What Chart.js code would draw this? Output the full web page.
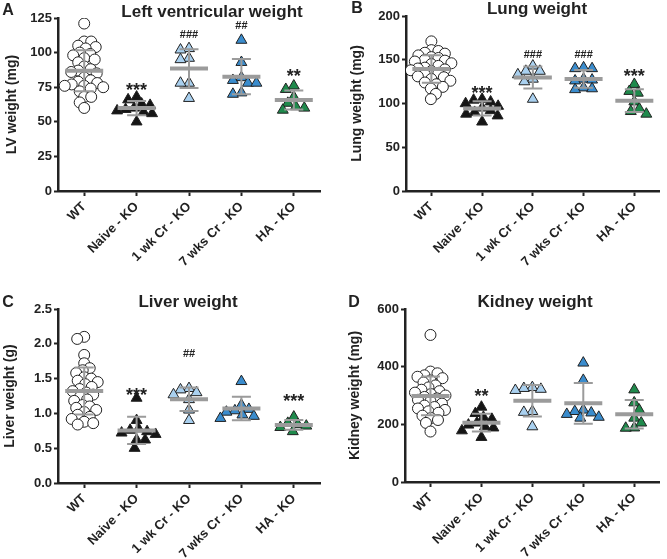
<!DOCTYPE html>
<html>
<head>
<meta charset="utf-8">
<script src="https://cdn.jsdelivr.net/npm/chart.js@4.4.0/dist/chart.umd.min.js"></script>
<style>
    body { margin: 0; background: #fff; width: 667px; height: 559px; position: relative; overflow: hidden; }
    .panel { position: absolute; }
</style>
</head>
<body>
<div class="panel" style="left:0;top:0;width:330px;height:280px"><canvas id="chartA"></canvas></div>
<div class="panel" style="left:330px;top:0;width:337px;height:280px"><canvas id="chartB"></canvas></div>
<div class="panel" style="left:0;top:280px;width:330px;height:279px"><canvas id="chartC"></canvas></div>
<div class="panel" style="left:330px;top:280px;width:337px;height:279px"><canvas id="chartD"></canvas></div>
<script>
const groups = ['WT', 'Naive - KO', '1 wk Cr - KO', '7 wks Cr - KO', 'HA - KO'];

// A - left ventricular weight (mg)
const lvWT    = [121, 108, 108, 105, 104, 103, 100, 99, 98, 96, 95, 93, 90, 88, 87, 86, 85, 82, 80, 79, 78, 77, 76, 76, 75, 74, 72, 68, 68, 64, 60];
const lvNaive = [68, 66, 63, 62, 60, 59, 58, 57, 56, 50];
const lv1wk   = [103, 102, 96, 95, 78, 78, 67];
const lv7wk   = [109, 93, 82, 80, 78, 78, 71, 70];
const lvHA    = [76, 73.5, 68, 63.5, 61, 60, 58.5];
const lvSig   = ['', '***', '###', '##', '**'];
const lvSigAt = [null, 75, 113, 119, 85];

// B - lung weight (mg)
const lungWT    = [171, 161, 160, 158, 157, 155, 153, 152, 150, 149, 148, 146, 145, 143, 141, 140, 139, 138, 137, 135, 133, 131, 130, 128, 126, 124, 122, 119, 117, 111, 105];
const lungNaive = [105, 104, 102, 100, 97, 95, 92, 90, 88, 86, 79];
const lung1wk   = [143, 137, 137, 133, 128, 125, 105];
const lung7wk   = [141, 140, 140, 128, 127, 126, 118, 117, 116];
const lungHA    = [122, 114, 112, 102, 94, 91, 88];
const lungSig   = ['', '***', '###', '###', '***'];
const lungSigAt = [null, 115, 155, 155, 135];

// C - liver weight (g)
const liverWT    = [2.10, 2.07, 1.84, 1.72, 1.65, 1.62, 1.58, 1.52, 1.50, 1.47, 1.45, 1.42, 1.38, 1.35, 1.32, 1.30, 1.27, 1.24, 1.20, 1.18, 1.12, 1.10, 1.08, 1.05, 1.02, 0.98, 0.95, 0.92, 0.88, 0.86, 0.84];
const liverNaive = [1.22, 0.90, 0.78, 0.76, 0.74, 0.72, 0.70, 0.62, 0.62, 0.50];
const liver1wk   = [1.36, 1.34, 1.30, 1.27, 1.20, 1.05, 0.90];
const liver7wk   = [1.46, 1.12, 1.06, 1.04, 1.02, 0.98, 0.96, 0.93];
const liverHA    = [0.95, 0.86, 0.84, 0.82, 0.80, 0.74];
const liverSig   = ['', '***', '##', '', '***'];
const liverSigAt = [null, 1.31, 1.85, null, 1.22];

// D - kidney weight (mg)
const kidneyWT    = [510, 383, 377, 370, 365, 360, 352, 345, 335, 328, 320, 315, 310, 305, 300, 295, 290, 285, 280, 272, 265, 260, 255, 250, 245, 240, 230, 222, 215, 205, 175];
const kidneyNaive = [260, 238, 225, 218, 205, 198, 192, 188, 178, 155];
const kidney1wk   = [328, 325, 322, 318, 245, 242, 192];
const kidney7wk   = [413, 353, 250, 245, 240, 235, 225, 222];
const kidneyHA    = [320, 275, 250, 222, 205, 188, 187];
const kidneySig   = ['', '**', '', '', ''];
const kidneySigAt = [null, 309, null, null, null];

const FONT = '"Liberation Sans", Arial, sans-serif';
const INK = '#222';
const fills = ['#ffffff', '#151515', '#a9d0ef', '#3a8ccd', '#1f8a4c'];

const decor = {
    id: 'decor',
    afterDatasetsDraw(chart, args, opts) {
        const { ctx, scales: { x, y } } = chart;
        ctx.save();
        chart.data.datasets.forEach((ds, i) => {
            const vals = ds.data.map(p => p.y);
            const m = vals.reduce((s, v) => s + v, 0) / vals.length;
            const sd = Math.sqrt(vals.reduce((s, v) => s + (v - m) ** 2, 0) / (vals.length - 1));
            const cx = x.getPixelForValue(i);
            const pm = y.getPixelForValue(m);
            const pt = y.getPixelForValue(m + sd);
            const pb = y.getPixelForValue(m - sd);
            ctx.strokeStyle = '#9b9b9b';
            ctx.lineWidth = 2;
            ctx.beginPath();
            ctx.moveTo(cx, pt); ctx.lineTo(cx, pb);
            ctx.moveTo(cx - 9.5, pt); ctx.lineTo(cx + 9.5, pt);
            ctx.moveTo(cx - 9.5, pb); ctx.lineTo(cx + 9.5, pb);
            ctx.stroke();
            ctx.lineWidth = 4;
            ctx.beginPath();
            ctx.moveTo(cx - 19, pm); ctx.lineTo(cx + 19, pm);
            ctx.stroke();

            const txt = opts.sig[i];
            if (txt) {
                const star = txt[0] === '*';
                ctx.fillStyle = INK;
                ctx.textAlign = 'center';
                ctx.textBaseline = 'middle';
                ctx.font = star ? 'bold 18px ' + FONT : 'bold 11px ' + FONT;
                ctx.fillText(txt, cx, y.getPixelForValue(opts.sigAt[i]) + (star ? 4 : 0));
            }
        });
        ctx.fillStyle = INK;
        ctx.textAlign = 'center';
        ctx.textBaseline = 'middle';
        ctx.font = 'bold 17px ' + FONT;
        ctx.fillText(opts.title, opts.titleX, opts.titleY);
        ctx.font = 'bold 16px ' + FONT;
        ctx.fillText(opts.letter, opts.letterX, opts.letterY);
        ctx.restore();
    }
};

// spread the points of a column sideways so they don't pile up (dot plot)
function swarm(chart) {
    const xs = chart.scales.x, ys = chart.scales.y;
    const catPx = xs.getPixelForValue(1) - xs.getPixelForValue(0);
    chart.data.datasets.forEach((ds, i) => {
        const minD = i === 0 ? 7 : 8.5;
        const placed = [];
        const pts = ds.data.slice().sort((a, b) => b.y - a.y);
        pts.forEach((p, n) => {
            const py = ys.getPixelForValue(p.y);
            const dir = n % 2 ? -1 : 1;
            let dx = 0;
            for (let k = 0; k < 80; k++) {
                const cands = k === 0 ? [0] : [dir * k * 0.5, -dir * k * 0.5];
                const ok = cands.find(c => placed.every(q => Math.hypot(q.dx - c, q.py - py) >= minD));
                if (ok !== undefined) { dx = ok; break; }
            }
            placed.push({ dx, py });
            p.x = i + dx / catPx;
        });
    });
    chart.update('none');
}

function makePanel(id, p) {
    const datasets = p.series.map((vals, i) => ({
        data: vals.map(v => ({ x: i, y: v })),
        pointStyle: i === 0 ? 'circle' : 'triangle',
        pointRadius: i === 0 ? 5.5 : 6.3,
        pointBackgroundColor: fills[i],
        pointBorderColor: INK,
        pointBorderWidth: 1,
        showLine: false,
    }));
    const chart = new Chart(document.getElementById(id), {
        type: 'scatter',
        data: { datasets },
        plugins: [decor],
        options: {
            responsive: true,
            maintainAspectRatio: false,
            animation: false,
            events: [],
            layout: { padding: { top: p.padTop, right: p.padRight, left: 0, bottom: 0 } },
            plugins: {
                legend: { display: false },
                tooltip: { enabled: false },
                decor: {
                    sig: p.sig, sigAt: p.sigAt,
                    title: p.title, titleX: p.titleX, titleY: p.titleY,
                    letter: p.letter, letterX: p.letterX, letterY: p.letterY,
                },
            },
            scales: {
                x: {
                    type: 'linear', min: -0.5, max: 4.5,
                    afterBuildTicks: s => { s.ticks = groups.map((g, i) => ({ value: i })); },
                    afterFit: s => { s.height = p.xH; },
                    ticks: {
                        autoSkip: false, minRotation: 45, maxRotation: 45, padding: 3,
                        color: INK, font: { family: FONT, size: 13, weight: 'bold' },
                        callback: v => groups[v],
                    },
                    grid: { drawOnChartArea: false, tickLength: 5, tickWidth: 2, tickColor: INK },
                    border: { color: INK, width: 2.5 },
                },
                y: {
                    min: p.yMin, max: p.yMax,
                    afterFit: s => { s.width = p.yW; },
                    ticks: {
                        stepSize: p.step, padding: 2, color: INK,
                        font: { family: FONT, size: 13, weight: 'bold' },
                        callback: v => p.dec ? v.toFixed(p.dec) : v,
                    },
                    grid: { drawOnChartArea: false, tickLength: 4, tickWidth: 2, tickColor: INK },
                    border: { color: INK, width: 2.5 },
                    title: {
                        display: true, text: p.yTitle, color: INK,
                        font: { family: FONT, size: 14, weight: 'bold' },
                        padding: { top: p.yTitlePad, bottom: 0 },
                    },
                },
            },
        },
    });
    swarm(chart);
    return chart;
}

makePanel('chartA', {
    series: [lvWT, lvNaive, lv1wk, lv7wk, lvHA], sig: lvSig, sigAt: lvSigAt,
    yMin: 0, yMax: 125, step: 25, yTitle: 'LV weight (mg)',
    title: 'Left ventricular weight', titleX: 212, titleY: 12, letter: 'A', letterX: 8, letterY: 11,
    padTop: 18, padRight: 10, xH: 89, yW: 58, yTitlePad: 4,
});
makePanel('chartB', {
    series: [lungWT, lungNaive, lung1wk, lung7wk, lungHA], sig: lungSig, sigAt: lungSigAt,
    yMin: 0, yMax: 200, step: 50, yTitle: 'Lung weight (mg)',
    title: 'Lung weight', titleX: 207, titleY: 9, letter: 'B', letterX: 27, letterY: 9,
    padTop: 16, padRight: 0, xH: 89, yW: 76, yTitlePad: 19,
});
makePanel('chartC', {
    series: [liverWT, liverNaive, liver1wk, liver7wk, liverHA], sig: liverSig, sigAt: liverSigAt,
    yMin: 0, yMax: 2.5, step: 0.5, dec: 1, yTitle: 'Liver weight (g)',
    title: 'Liver weight', titleX: 188, titleY: 22, letter: 'C', letterX: 8, letterY: 23,
    padTop: 29, padRight: 10, xH: 76, yW: 58, yTitlePad: 2,
});
makePanel('chartD', {
    series: [kidneyWT, kidneyNaive, kidney1wk, kidney7wk, kidneyHA], sig: kidneySig, sigAt: kidneySigAt,
    yMin: 0, yMax: 600, step: 200, yTitle: 'Kidney weight (mg)',
    title: 'Kidney weight', titleX: 205, titleY: 22, letter: 'D', letterX: 24, letterY: 23,
    padTop: 29, padRight: 0, xH: 77, yW: 75, yTitlePad: 17,
});
</script>
</body>
</html>
